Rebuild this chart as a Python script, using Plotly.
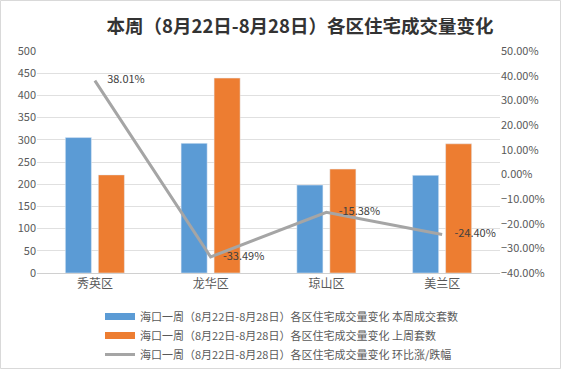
import plotly.graph_objects as go

categories = ["秀英区", "龙华区", "琼山区", "美兰区"]
this_week = [305, 292, 198, 220]
last_week = [221, 439, 234, 291]
change_pct = [38.01, -33.49, -15.38, -24.40]

prefix = "海口一周（8月22日-8月28日）各区住宅成交量变化 "
names = [prefix + "本周成交套数", prefix + "上周套数", prefix + "环比涨/跌幅"]
title = "本周（8月22日-8月28日）各区住宅成交量变化"

FONT = "Noto Sans CJK SC"
BLUE, ORANGE, GRAY = "#5B9BD5", "#ED7D31", "#A5A5A5"

fig = go.Figure()
fig.add_trace(go.Bar(x=categories, y=this_week, name=names[0], marker_color=BLUE,
                     showlegend=False))
fig.add_trace(go.Bar(x=categories, y=last_week, name=names[1], marker_color=ORANGE,
                     showlegend=False))
fig.add_trace(go.Scatter(
    x=categories, y=change_pct, name=names[2], yaxis="y2", mode="lines+markers+text",
    line=dict(color=GRAY, width=3),
    marker=dict(size=18, opacity=0, color=GRAY),
    text=[f"{v:.2f}%" for v in change_pct], textposition="middle right",
    textfont=dict(size=11, color="#404040", family=FONT),
    showlegend=False,
))
# legend entries (legend-only keys styled like the reference swatches)
for nm, col, w in [(names[0], BLUE, 7), (names[1], ORANGE, 7), (names[2], GRAY, 3)]:
    fig.add_trace(go.Scatter(x=[None], y=[None], mode="lines", name=nm,
                             line=dict(color=col, width=w), showlegend=True))

L, R, T, B = 37, 61, 51, 96
W, H = 561, 369
pw, ph = W - L - R, H - T - B

fig.update_layout(
    width=W, height=H,
    margin=dict(l=L, r=R, t=T, b=B, autoexpand=False),
    paper_bgcolor="white", plot_bgcolor="white",
    font=dict(family=FONT, size=11, color="#595959"),
    title=dict(text=title, x=300 / W, xanchor="center", y=1 - 27 / H, yanchor="middle",
               font=dict(size=18.5, color="#333333", family=FONT, weight="bold")),
    barmode="group", bargap=0.43, bargroupgap=0.21,
    showlegend=True,
    legend=dict(orientation="v", x=(100 - L) / pw, xanchor="left",
                y=-(302 - (T + ph)) / ph, yanchor="top",
                font=dict(size=11, color="#595959", family=FONT),
                tracegroupgap=0, itemwidth=30, bgcolor="rgba(0,0,0,0)"),
    xaxis=dict(showgrid=False, showline=True, linecolor="#D0D0D0", linewidth=1,
               ticks="", tickfont=dict(size=12, color="#595959")),
    yaxis=dict(range=[0, 500], dtick=50, showgrid=True, gridcolor="#E0E0E0",
               zeroline=False, showline=False, ticks="", tickfont=dict(size=11)),
    yaxis2=dict(range=[-40, 50], dtick=10, overlaying="y", side="right",
                showgrid=False, zeroline=False, tickformat=".2f", ticksuffix="%",
                tickfont=dict(size=11)),
    shapes=[dict(type="rect", xref="paper", yref="paper",
                 x0=(0.5 - L) / pw, x1=(W - 0.5 - L) / pw,
                 y0=-(H - 0.5 - (T + ph)) / ph, y1=1 + (T - 0.5) / ph,
                 line=dict(color="#D9D9D9", width=1))],
)

fig.write_html("out.html", config={"displayModeBar": False},
               post_script="document.body.style.margin='0';document.body.style.padding='0';")
